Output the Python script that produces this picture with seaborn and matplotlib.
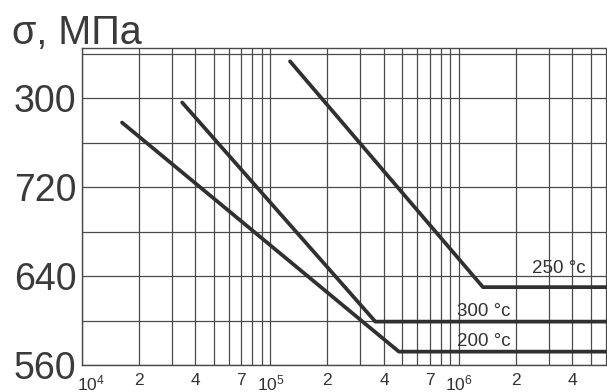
import numpy as np
import pandas as pd
import matplotlib
matplotlib.use("Agg")
from matplotlib import pyplot as plt
from matplotlib.ticker import FixedLocator, LogLocator, NullFormatter
from matplotlib.transforms import ScaledTranslation
import seaborn as sns

# fatigue curves, N cycles vs stress (MPa)
n_200 = [1.63e4, 4.8e5, 1e7]
s_200 = [778, 572, 572]
n_300 = [3.4e4, 3.6e5, 1e7]
s_300 = [796, 599, 599]
n_250 = [1.27e5, 1.34e6, 1e7]
s_250 = [833, 630, 630]

x_ticks = [1e4, 2e4, 4e4, 7e4, 1e5, 2e5, 4e5, 7e5, 1e6, 2e6, 4e6]
x_labels = ["$10^4$", "2", "4", "7", "$10^5$", "2", "4", "7", "$10^6$", "2", "4"]
y_ticks = [560, 640, 720, 800]
y_labels = ["560", "640", "720", "300"]
y_grid = [560, 600, 640, 680, 720, 760, 800, 840]

curve_labels = ["200 °c", "300 °c", "250 °c"]
label_pos = [(9.75e5, 581), (9.75e5, 608), (2.44e6, 647)]

df = pd.concat([
    pd.DataFrame({"N": n_200, "sigma": s_200, "t": "200"}),
    pd.DataFrame({"N": n_300, "sigma": s_300, "t": "300"}),
    pd.DataFrame({"N": n_250, "sigma": s_250, "t": "250"}),
])

sns.set_theme(style="white")
plt.rcParams['font.family'] = ['Liberation Sans', 'DejaVu Sans']
plt.rcParams['mathtext.fontset'] = 'custom'
plt.rcParams['mathtext.rm'] = 'Liberation Sans'
plt.rcParams['mathtext.it'] = 'Liberation Sans'

fig = plt.figure(figsize=(6.07, 3.92), dpi=100)
ax = fig.add_axes([82/607, 1-365/392, 1-82/607, (365-48)/392])

grid_c = "#4a4a4a"
ax.set_xscale("log")
ax.set_xlim(1e4, 6.1e6)
ax.set_ylim(560, 845)

ax.xaxis.set_minor_locator(LogLocator(base=10, subs=np.arange(1, 10)))
ax.xaxis.set_minor_formatter(NullFormatter())
ax.xaxis.set_major_locator(FixedLocator(x_ticks))
ax.set_xticklabels(x_labels)
ax.yaxis.set_major_locator(FixedLocator(y_ticks))
ax.yaxis.set_minor_locator(FixedLocator(y_grid))
ax.set_yticklabels(y_labels)
ax.grid(True, which="both", color=grid_c, lw=0.9)
ax.tick_params(axis="both", which="both", length=0)
ax.tick_params(axis="x", labelsize=12.5, pad=6, colors="#333333")
ax.tick_params(axis="y", labelsize=27, pad=4, colors="#3a3a3a")

# first label sits a bit right of the axis corner
first = ax.get_xticklabels()[0]
first.set_transform(first.get_transform() + ScaledTranslation(9/100, 0, fig.dpi_scale_trans))

for t in ["200", "300", "250"]:
    sub = df[df["t"] == t]
    sns.lineplot(data=sub, x="N", y="sigma", ax=ax, color="#303030", lw=2.7,
                 estimator=None, sort=False, legend=False)
ax.set_xlabel("")
ax.set_ylabel("")

for lab, (x, y) in zip(curve_labels, label_pos):
    ax.text(x, y, lab, fontsize=13.5, color="#333333", va="center", ha="left")

for side in ["top", "left", "bottom"]:
    ax.spines[side].set_color(grid_c)
    ax.spines[side].set_linewidth(1.0)
ax.spines["right"].set_visible(False)

fig.text(12/607, 1-44/392, "σ, МПа", fontsize=28.5, color="#3a3a3a", va="baseline")

fig.savefig("out.png", dpi=100)
